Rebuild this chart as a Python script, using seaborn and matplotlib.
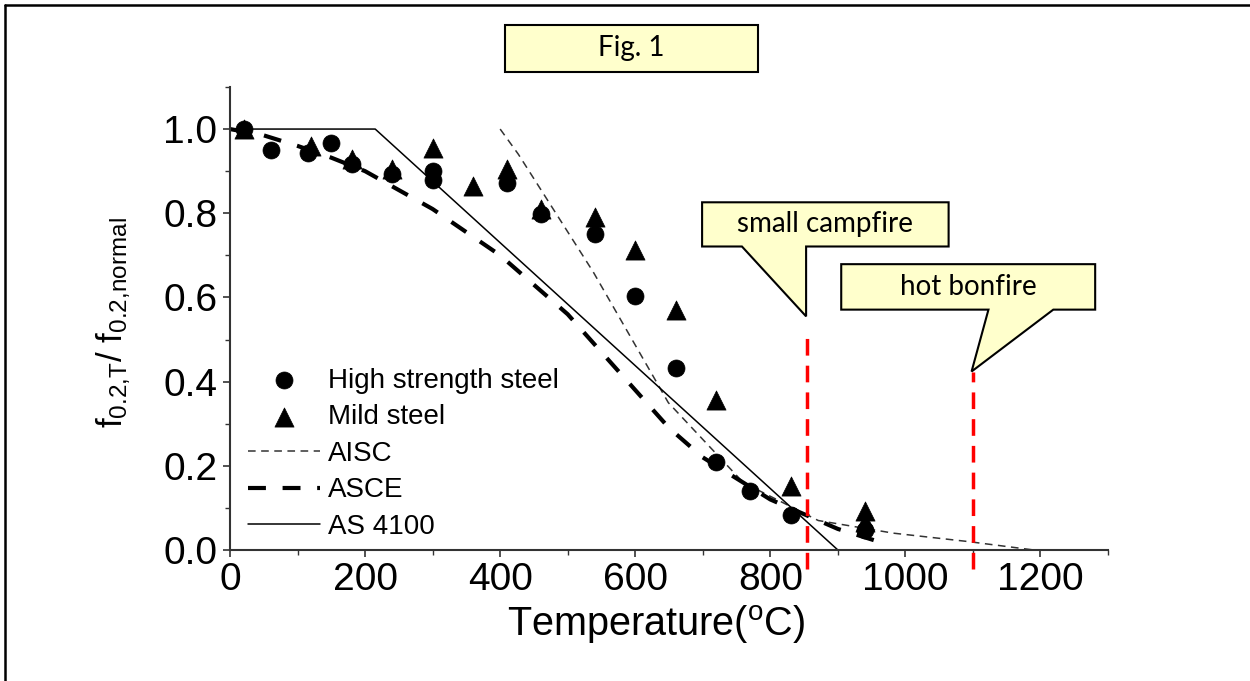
"""Fig. 1 - yield strength retention of steel at elevated temperature."""

import matplotlib.pyplot as plt
import seaborn as sns
from matplotlib.lines import Line2D
from matplotlib.patches import Polygon, Rectangle
from matplotlib.ticker import MultipleLocator


# Test points (temperature in degC, f0.2,T / f0.2,normal)
hs_temp = [20, 60, 115, 150, 180, 240, 300, 300, 410, 460, 540, 600, 660, 720, 770, 830, 940]
hs_ratio = [1.0, 0.95, 0.944, 0.968, 0.917, 0.893, 0.90, 0.88, 0.873, 0.798, 0.75,
            0.603, 0.433, 0.21, 0.139, 0.082, 0.048]

mild_temp = [20, 120, 180, 240, 300, 360, 410, 460, 540, 600, 660, 720, 830, 940, 940]
mild_ratio = [1.0, 0.96, 0.93, 0.905, 0.955, 0.865, 0.905, 0.81, 0.79, 0.713, 0.571,
              0.357, 0.153, 0.093, 0.067]

# Design code curves
aisc_temp = [400, 427, 538, 649, 760, 871, 982, 1093, 1190]
aisc_ratio = [1.0, 0.94, 0.66, 0.35, 0.16, 0.07, 0.04, 0.02, 0.0]

asce_temp = [0, 50, 100, 150, 200, 300, 400, 500, 600, 650, 700, 750, 800, 850, 900, 970]
asce_ratio = [1.0, 0.985, 0.96, 0.932, 0.90, 0.81, 0.70, 0.56, 0.38, 0.29, 0.22, 0.17,
              0.12, 0.085, 0.05, 0.015]

as4100_temp = [0, 215, 900]
as4100_ratio = [1.0, 1.0, 0.0]

# Fire temperatures marked on the chart
fire_labels = ["small campfire", "hot bonfire"]
fire_temps = [855, 1100]
fire_line_tops = [0.524, 0.424]

BOX_FILL = "#FFFFCC"
CALLOUT_FONT = ["Lato", "DejaVu Sans"]


def callout(ax, text, x0, x1, y0, y1, base_a, base_b, tip):
    verts = [(x0, y1), (x1, y1), (x1, y0), (base_b, y0), tip, (base_a, y0), (x0, y0)]
    ax.add_patch(Polygon(verts, closed=True, facecolor=BOX_FILL, edgecolor="black",
                         linewidth=1.5, clip_on=False, zorder=6))
    ax.text((x0 + x1) / 2, (y0 + y1) / 2, text, ha="center", va="center",
            fontsize=20, family=CALLOUT_FONT, color="black", zorder=7)


sns.set_style("ticks")
plt.rcParams["font.family"] = ["Liberation Sans", "DejaVu Sans"]
plt.rcParams["mathtext.fontset"] = "custom"
plt.rcParams["mathtext.rm"] = "Liberation Sans"
plt.rcParams["mathtext.it"] = "Liberation Sans:italic"
plt.rcParams["mathtext.default"] = "regular"
plt.rcParams["text.color"] = "black"
plt.rcParams["axes.labelcolor"] = "black"

fig = plt.figure(figsize=(12.5, 6.81), dpi=100)
ax = fig.add_axes([0.184, 0.1924, 0.7024, 0.6799])

sns.lineplot(x=aisc_temp, y=aisc_ratio, ax=ax, color="#333333", linewidth=1.1,
             linestyle=(0, (5, 3.6)), label="AISC", estimator=None, sort=False, zorder=2)
sns.lineplot(x=asce_temp, y=asce_ratio, ax=ax, color="black", linewidth=3,
             linestyle=(0, (4.3, 4)), label="ASCE", estimator=None, sort=False, zorder=2)
sns.lineplot(x=as4100_temp, y=as4100_ratio, ax=ax, color="black", linewidth=1.1,
             linestyle="-", label="AS 4100", estimator=None, sort=False, zorder=2)

sns.scatterplot(x=hs_temp, y=hs_ratio, ax=ax, marker="o", s=150, color="black",
                edgecolor="black", linewidth=0.5, label="High strength steel", zorder=4)
sns.scatterplot(x=mild_temp, y=mild_ratio, ax=ax, marker="^", s=190, color="black",
                edgecolor="black", linewidth=0.5, label="Mild steel", zorder=4)

# fire markers
ax.vlines(fire_temps, -0.045, fire_line_tops, colors="red", linewidth=2.5,
          linestyles=[(0, (4.8, 2.9))], clip_on=False, zorder=5)
callout(ax, fire_labels[0], 699, 1064, 0.721, 0.826, 758, fire_temps[0] - 2,
        (fire_temps[0] - 2, 0.555))
callout(ax, fire_labels[1], 905, 1281, 0.571, 0.679, 1123, 1219,
        (fire_temps[1] - 2, 0.424))

ax.set_xlim(0, 1300)
ax.set_ylim(0, 1.1)
ax.set_xticks(range(0, 1201, 200))
ax.set_yticks([0.0, 0.2, 0.4, 0.6, 0.8, 1.0])
ax.xaxis.set_minor_locator(MultipleLocator(100))
ax.yaxis.set_minor_locator(MultipleLocator(0.1))
ax.tick_params(axis="both", which="major", direction="out", length=5, width=1.2,
               labelsize=28, pad=4, color="#333333", labelcolor="black")
ax.tick_params(axis="both", which="minor", direction="out", length=3.5, width=1,
               color="#333333")
ax.spines[["top", "right"]].set_visible(False)
for side in ["left", "bottom"]:
    ax.spines[side].set_linewidth(1.5)
    ax.spines[side].set_color("#333333")

ax.set_xlabel(r"Temperature($^{o}$C)", fontsize=28.5)
ax.xaxis.set_label_coords(0.485, -0.162)
ax.xaxis.label.set_va("center")
ax.set_ylabel(r"$f_{0.2{,}T}/\ f_{0.2{,}normal}$", fontsize=25)
ax.yaxis.set_label_coords(-0.132, 0.492)
ax.yaxis.label.set_va("center")

handles, labels = ax.get_legend_handles_labels()
lookup = dict(zip(labels, handles))
order = ["High strength steel", "Mild steel", "AISC", "ASCE", "AS 4100"]
ax.legend([lookup[k] for k in order], order, loc="lower left",
          bbox_to_anchor=(0.02, 0.022), frameon=False, fontsize=20, handlelength=2.6,
          handletextpad=0.3, labelspacing=0.38, borderpad=0, borderaxespad=0,
          labelcolor="black")

# "Fig. 1" label box and page frame
fig.add_artist(Rectangle((505 / 1250, 1 - 72 / 681), 253 / 1250, 47 / 681,
                         transform=fig.transFigure, facecolor=BOX_FILL,
                         edgecolor="black", linewidth=1.5))
fig.text(631 / 1250, 1 - 48 / 681, "Fig. 1", ha="center", va="center", fontsize=20,
         family=CALLOUT_FONT, color="black")
fig.add_artist(Line2D([5 / 1250, 1], [1 - 5 / 681, 1 - 5 / 681], color="black",
                      linewidth=1.8, transform=fig.transFigure))
fig.add_artist(Line2D([5 / 1250, 5 / 1250], [0, 1 - 5 / 681], color="black",
                      linewidth=1.8, transform=fig.transFigure))

fig.savefig("out.png", dpi=100)
